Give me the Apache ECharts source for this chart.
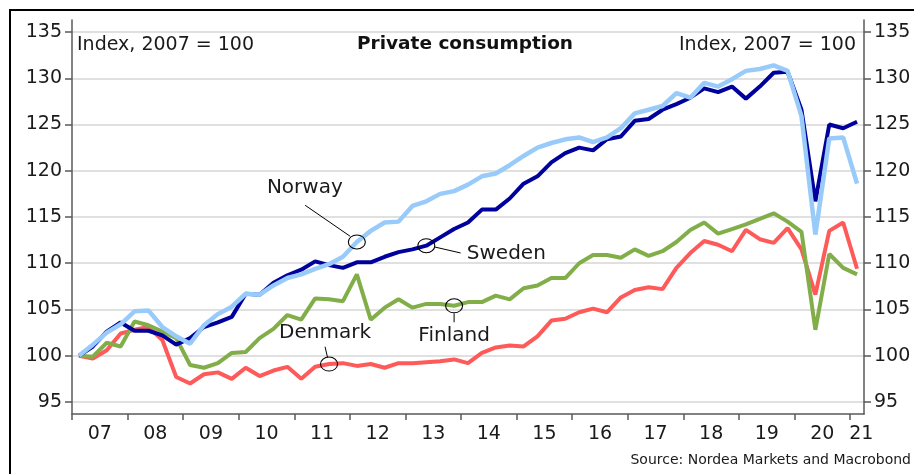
<!DOCTYPE html>
<html>
<head>
<meta charset="utf-8">
<script src="https://cdn.jsdelivr.net/npm/echarts@6/dist/echarts.min.js"></script>
<style>
  html, body { margin: 0; padding: 0; background: #fff; }
  #chart { width: 914px; height: 474px; }
</style>
</head>
<body>
<div id="chart"></div>
<script>
// quarters 2007Q1 .. 2021Q1
var startYear = 2007;
var quarterCount = 57;
var quarters = [];
for (var i = 0; i < quarterCount; i++) {
  quarters.push((startYear + Math.floor(i / 4)) + "Q" + (i % 4 + 1));
}

var norway = [
  100.0, 101.2, 102.5, 103.4, 104.8, 104.9, 103.1, 102.1, 101.3, 103.3, 104.5, 105.3,
  106.7, 106.6, 107.6, 108.4, 108.8, 109.4, 109.9, 110.7, 112.3, 113.5, 114.4, 114.5,
  116.2, 116.7, 117.5, 117.8, 118.5, 119.4, 119.7, 120.6, 121.6, 122.5, 123.0, 123.4,
  123.6, 123.1, 123.6, 124.6, 126.2, 126.6, 127.0, 128.4, 127.9, 129.5, 129.1, 129.9,
  130.8, 131.0, 131.4, 130.8, 125.9, 113.1, 123.5, 123.6, 118.6
];
var sweden = [
  100.0, 101.0, 102.6, 103.6, 102.7, 102.7, 102.2, 101.2, 101.9, 103.1, 103.6, 104.2,
  106.7, 106.6, 107.9, 108.7, 109.3, 110.2, 109.8, 109.5, 110.1, 110.1, 110.7, 111.2,
  111.5, 111.9, 112.8, 113.7, 114.4, 115.8, 115.8, 117.0, 118.6, 119.4, 120.9, 121.9,
  122.5, 122.2, 123.4, 123.7, 125.4, 125.6, 126.6, 127.2, 127.9, 128.9, 128.5, 129.1,
  127.8, 129.1, 130.6, 130.7, 126.6, 116.7, 125.0, 124.6, 125.3
];
var denmark = [
  100.0, 99.7, 100.6, 102.4, 102.8, 103.1, 101.7, 97.7, 97.0, 98.0, 98.2, 97.5,
  98.7, 97.8, 98.4, 98.8, 97.5, 98.8, 99.1, 99.2, 98.9, 99.1, 98.7, 99.2,
  99.2, 99.3, 99.4, 99.6, 99.2, 100.3, 100.9, 101.1, 101.0, 102.1, 103.8, 104.0,
  104.7, 105.1, 104.7, 106.3, 107.1, 107.4, 107.2, 109.5, 111.1, 112.4, 112.0, 111.3,
  113.6, 112.6, 112.2, 113.8, 111.5, 106.6, 113.5, 114.4, 109.4
];
var finland = [
  100.0, 99.9, 101.4, 101.0, 103.7, 103.3, 102.6, 101.9, 99.0, 98.7, 99.2, 100.3,
  100.4, 101.9, 102.9, 104.4, 103.9, 106.2, 106.1, 105.9, 108.8, 103.9, 105.2, 106.1,
  105.2, 105.6, 105.6, 105.4, 105.8, 105.8, 106.5, 106.1, 107.3, 107.6, 108.4, 108.4,
  110.0, 110.9, 110.9, 110.6, 111.5, 110.8, 111.3, 112.3, 113.6, 114.4, 113.2, 113.7,
  114.2, 114.8, 115.4, 114.5, 113.4, 102.8, 111.0, 109.5, 108.8
];

var yTicks = [95, 100, 105, 110, 115, 120, 125, 130, 135];
var yearTicks = [2007, 2008, 2009, 2010, 2011, 2012, 2013, 2014, 2015, 2016, 2017, 2018, 2019, 2020, 2021];
var yearLabelPos = [2007.5, 2008.5, 2009.5, 2010.5, 2011.5, 2012.5, 2013.5, 2014.5, 2015.5,
  2016.5, 2017.5, 2018.5, 2019.5, 2020.5, 2021.2];

// quarter midpoints on a year scale
function toPoints(values) {
  return values.map(function (v, i) {
    var q = quarters[i];
    var yr = +q.slice(0, 4);
    var qn = +q.slice(5);
    return [yr + (qn - 0.5) / 4, v];
  });
}

var FONT = "DejaVu Sans";
var axisColor = "#5a5a5a";
var circleStyle = {
  symbol: "circle",
  symbolSize: [17, 14],
  itemStyle: { color: "rgba(0,0,0,0)", borderColor: "#000", borderWidth: 1 },
  label: { show: false }
};

function yAxisCfg(pos, showSplit) {
  return {
    type: "value",
    position: pos,
    min: 93.7,
    max: 136.3,
    axisLine: { show: true, onZero: false, lineStyle: { color: axisColor, width: 1.5 } },
    axisTick: { show: true, length: 7, customValues: yTicks, lineStyle: { color: axisColor, width: 1.5 } },
    axisLabel: { customValues: yTicks, fontFamily: FONT, fontSize: 19, color: "#1a1a1a", margin: 10 },
    splitLine: { show: showSplit, lineStyle: { color: "#d6d6d6", width: 1.5 } }
  };
}

function lineSeries(name, values, color, width) {
  return {
    name: name,
    type: "line",
    yAxisIndex: 0,
    data: toPoints(values),
    showSymbol: false,
    symbol: "none",
    lineStyle: { color: color, width: width },
    itemStyle: { color: color },
    z: 2
  };
}

var myChart = echarts.init(document.getElementById("chart"));

var option = {
  animation: false,
  backgroundColor: "#fff",
  grid: { left: 72, right: 50, top: 20, bottom: 60, containLabel: false },
  xAxis: {
    type: "value",
    min: 2007,
    max: 2021.25,
    axisLine: { show: true, onZero: false, lineStyle: { color: axisColor, width: 1.5 } },
    axisTick: { show: true, length: 6, customValues: yearTicks, lineStyle: { color: axisColor, width: 1.5 } },
    axisLabel: {
      customValues: yearLabelPos,
      fontFamily: FONT,
      fontSize: 19,
      color: "#1a1a1a",
      margin: 11,
      formatter: function (v) { return String(Math.floor(v)).slice(2); }
    },
    splitLine: { show: false }
  },
  yAxis: [yAxisCfg("left", true), yAxisCfg("right", false)],
  series: [
    lineSeries("Denmark", denmark, "#ff5a5a", 4),
    lineSeries("Finland", finland, "#82ae4a", 4),
    lineSeries("Sweden", sweden, "#00009c", 4),
    lineSeries("Norway", norway, "#99cbfa", 4.5)
  ]
};

// circled annotation points
var notes = [
  { name: "Norway", values: norway, idx: 20, label: [-52, -54], lead: [-51.7, -36.7, -6.7, -5.7] },
  { name: "Sweden", values: sweden, idx: 25, label: [80, 8], lead: [8.3, 1.3, 34.3, 7.3] },
  { name: "Denmark", values: denmark, idx: 18, label: [-4, -31], lead: [-4, -17.3, -1.5, -6.5] },
  { name: "Finland", values: finland, idx: 27, label: [0, 30], lead: [0, 7.5, 0, 16.5] }
];
notes.forEach(function (n) {
  var s = option.series.filter(function (x) { return x.name === n.name; })[0];
  s.markPoint = Object.assign({ silent: true, data: [{ coord: toPoints(n.values)[n.idx] }] }, circleStyle);
});

myChart.setOption(option);

var graphics = [
  { type: "rect", shape: { x: 10, y: 10, width: 1000, height: 1000 },
    style: { fill: "none", stroke: "#000", lineWidth: 2 }, silent: true },
  { type: "text", x: 77, y: 45,
    style: { text: "Index, 2007 = 100", font: "19px " + FONT, fill: "#1a1a1a", textVerticalAlign: "middle" } },
  { type: "text", x: 856, y: 45,
    style: { text: "Index, 2007 = 100", font: "19px " + FONT, fill: "#1a1a1a", textAlign: "right", textVerticalAlign: "middle" } },
  { type: "text", x: 465, y: 44,
    style: { text: "Private consumption", font: "bold 18.5px " + FONT, fill: "#111", textAlign: "center", textVerticalAlign: "middle" } },
  { type: "text", x: 911, y: 460,
    style: { text: "Source: Nordea Markets and Macrobond", font: "14px " + FONT, fill: "#1a1a1a", textAlign: "right", textVerticalAlign: "middle" } }
];
notes.forEach(function (n) {
  var p = myChart.convertToPixel({ gridIndex: 0 }, toPoints(n.values)[n.idx]);
  graphics.push({
    type: "line",
    shape: { x1: p[0] + n.lead[0], y1: p[1] + n.lead[1], x2: p[0] + n.lead[2], y2: p[1] + n.lead[3] },
    style: { stroke: "#000", lineWidth: 1 }
  });
  graphics.push({
    type: "text", x: p[0] + n.label[0], y: p[1] + n.label[1],
    style: { text: n.name, font: "20px " + FONT, fill: "#1a1a1a", textAlign: "center", textVerticalAlign: "middle" }
  });
});
myChart.setOption({ graphic: graphics });
</script>
</body>
</html>
